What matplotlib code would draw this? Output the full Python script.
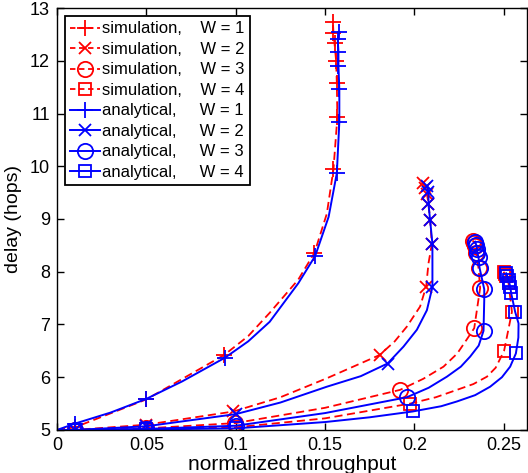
import matplotlib
matplotlib.use('Agg')
import matplotlib.pyplot as plt
from matplotlib.lines import Line2D

plt.rcParams['font.family'] = ['Liberation Sans', 'DejaVu Sans']

# simulation curves (red, dashed); *_mk = indices of points that carry a marker
sim1_x = [0.0, 0.01, 0.05, 0.0935, 0.107, 0.119, 0.135, 0.1441, 0.151, 0.1547,
          0.1569, 0.1566, 0.1562, 0.1553, 0.1547, 0.1544]
sim1_y = [5.0, 5.05, 5.58, 6.42, 6.78, 7.22, 7.85, 8.36, 9.1, 9.94,
          10.93, 11.57, 12.0, 12.33, 12.53, 12.74]
sim1_mk = [1, 2, 3, 7, 9, 10, 11, 12, 13, 14, 15]

sim2_x = [0.0, 0.01, 0.05, 0.0987, 0.125, 0.151, 0.1805, 0.189, 0.1958, 0.2032,
          0.2066, 0.2079, 0.2098, 0.2088, 0.2079, 0.207, 0.206, 0.2051]
sim2_y = [5.0, 5.0, 5.1, 5.35, 5.62, 5.98, 6.42, 6.68, 6.96, 7.34,
          7.72, 8.16, 8.53, 8.98, 9.29, 9.48, 9.58, 9.69]
sim2_mk = [1, 2, 3, 6, 10, 12, 13, 14, 15, 16, 17]

sim3_x = [0.0, 0.01, 0.05, 0.0997, 0.15, 0.192, 0.205, 0.2163, 0.224, 0.2294,
          0.2335, 0.2368, 0.2359, 0.2345, 0.234, 0.2335, 0.2327]
sim3_y = [5.0, 5.0, 5.03, 5.13, 5.42, 5.76, 5.97, 6.2, 6.45, 6.72,
          6.93, 7.69, 8.07, 8.35, 8.48, 8.55, 8.59]
sim3_mk = [1, 2, 3, 5, 10, 11, 12, 13, 14, 15, 16]

sim4_x = [0.0, 0.01, 0.05, 0.1, 0.15, 0.1977, 0.212, 0.2238, 0.233, 0.2406,
          0.2455, 0.2502, 0.2533, 0.2546, 0.2527, 0.2514, 0.2505, 0.2499]
sim4_y = [5.0, 5.0, 5.01, 5.05, 5.22, 5.5, 5.62, 5.76, 5.87, 6.01,
          6.18, 6.5, 7.02, 7.24, 7.78, 7.91, 7.96, 8.0]
sim4_mk = [1, 2, 3, 5, 11, 13, 14, 15, 16, 17]

# analytical curves (blue, solid)
ana1_x = [0.0, 0.01, 0.03, 0.05, 0.07, 0.094, 0.107, 0.119, 0.135, 0.1445,
          0.152, 0.1566, 0.158, 0.158, 0.1575, 0.1575, 0.1571, 0.158]
ana1_y = [5.0, 5.12, 5.33, 5.59, 5.92, 6.37, 6.68, 7.05, 7.78, 8.3,
          9.04, 9.87, 10.84, 11.46, 11.9, 12.17, 12.41, 12.55]
ana1_mk = [1, 3, 5, 9, 11, 12, 13, 14, 15, 16, 17]

ana2_x = [0.0, 0.01, 0.05, 0.1, 0.125, 0.151, 0.17, 0.185, 0.1939, 0.2014,
          0.207, 0.2101, 0.2101, 0.2088, 0.2079, 0.2079, 0.207]
ana2_y = [5.0, 5.0, 5.07, 5.3, 5.52, 5.82, 6.02, 6.26, 6.58, 6.9,
          7.27, 7.71, 8.53, 8.98, 9.28, 9.52, 9.63]
ana2_mk = [1, 2, 3, 7, 11, 12, 13, 14, 15, 16]

ana3_x = [0.0, 0.01, 0.05, 0.1, 0.15, 0.1958, 0.208, 0.2182, 0.226, 0.2312,
          0.236, 0.2387, 0.2391, 0.2391, 0.2365, 0.2359, 0.2353, 0.235,
          0.2346, 0.234]
ana3_y = [5.0, 5.0, 5.02, 5.08, 5.32, 5.62, 5.8, 6.01, 6.2, 6.39,
          6.6, 6.88, 7.46, 7.67, 8.07, 8.27, 8.35, 8.44,
          8.51, 8.57]
ana3_mk = [1, 2, 3, 5, 11, 13, 14, 15, 16, 17, 18, 19]

ana4_x = [0.0, 0.01, 0.05, 0.1, 0.15, 0.175, 0.199, 0.215, 0.2238, 0.234,
          0.2424, 0.249, 0.2536, 0.2568, 0.2582, 0.2583, 0.2564, 0.2542,
          0.2536, 0.2532, 0.2527, 0.2521, 0.2514]
ana4_y = [5.0, 5.0, 5.01, 5.03, 5.15, 5.24, 5.35, 5.45, 5.54, 5.66,
          5.82, 6.0, 6.2, 6.45, 6.75, 7.02, 7.24, 7.59,
          7.72, 7.78, 7.84, 7.91, 7.97]
ana4_mk = [1, 2, 3, 6, 13, 16, 17, 18, 19, 20, 21, 22]

sim_labels = ['simulation,    W = 1', 'simulation,    W = 2',
              'simulation,    W = 3', 'simulation,    W = 4']
ana_labels = ['analytical,     W = 1', 'analytical,     W = 2',
              'analytical,     W = 3', 'analytical,     W = 4']

markers = ['+', 'x', 'o', 's']
msizes = [11, 9, 11, 9]

fig = plt.figure(figsize=(5.28, 4.73), dpi=100)
ax = fig.add_axes([0.108, 0.091, 0.890, 0.892])

sims = [(sim1_x, sim1_y, sim1_mk), (sim2_x, sim2_y, sim2_mk),
        (sim3_x, sim3_y, sim3_mk), (sim4_x, sim4_y, sim4_mk)]
anas = [(ana1_x, ana1_y, ana1_mk), (ana2_x, ana2_y, ana2_mk),
        (ana3_x, ana3_y, ana3_mk), (ana4_x, ana4_y, ana4_mk)]

handles = []
for (x, y, mk), m, ms in zip(sims, markers, msizes):
    ax.plot(x, y, color='r', ls=(0, (4.5, 2.5)), lw=1.3, marker=m, ms=ms,
            mew=1.3, mfc='none', markevery=mk)
    handles.append(Line2D([], [], color='r', ls=(0, (3, 2)), lw=1.3,
                          marker=m, ms=ms, mew=1.3, mfc='none'))
for (x, y, mk), m, ms in zip(anas, markers, msizes):
    ax.plot(x, y, color='b', ls='-', lw=1.4, marker=m, ms=ms,
            mew=1.3, mfc='none', markevery=mk)
    handles.append(Line2D([], [], color='b', ls='-', lw=1.4,
                          marker=m, ms=ms, mew=1.3, mfc='none'))

ax.set_xlim(0, 0.263)
ax.set_ylim(5, 13)
ax.set_xticks([0, 0.05, 0.1, 0.15, 0.2, 0.25])
ax.set_xticklabels(['0', '0.05', '0.1', '0.15', '0.2', '0.25'])
ax.set_yticks(range(5, 14))
ax.tick_params(direction='in', top=True, right=True, length=5, width=1,
               labelsize=13, pad=5)
for s in ax.spines.values():
    s.set_linewidth(1.0)

ax.set_xlabel('normalized throughput', fontsize=15, labelpad=1)
ax.set_ylabel('delay (hops)', fontsize=14, labelpad=6)

leg = ax.legend(handles, sim_labels + ana_labels, loc='upper left',
                fontsize=12, frameon=True, fancybox=False, framealpha=1,
                edgecolor='k', borderaxespad=0.5, handlelength=1.8,
                handletextpad=0.1, labelspacing=0.33, borderpad=0.3)
leg.get_frame().set_linewidth(1.3)

fig.savefig('out.png', dpi=100)
